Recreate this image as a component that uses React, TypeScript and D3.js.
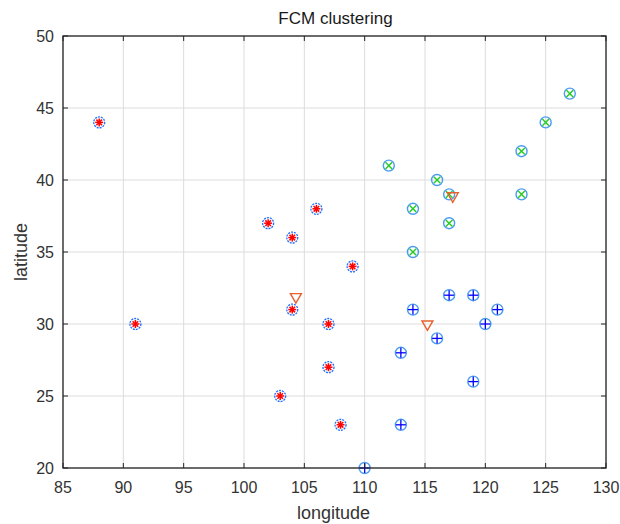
import React from "react";
import * as d3 from "d3";

const cluster1Lon = [88, 91, 102, 104, 106, 109, 104, 107, 107, 103, 108];
const cluster1Lat = [44, 30, 37, 36, 38, 34, 31, 30, 27, 25, 23];
const cluster2Lon = [127, 125, 123, 123, 112, 116, 117, 114, 117, 114];
const cluster2Lat = [46, 44, 42, 39, 41, 40, 39, 38, 37, 35];
const cluster3Lon = [117, 119, 121, 114, 120, 116, 113, 119, 113, 110];
const cluster3Lat = [32, 32, 31, 31, 30, 29, 28, 26, 23, 20];
const centerLon = [104.3, 115.2, 117.3];
const centerLat = [31.8, 29.9, 38.8];
const xTicks = [85, 90, 95, 100, 105, 110, 115, 120, 125, 130];
const yTicks = [20, 25, 30, 35, 40, 45, 50];

export default function App() {
  const W = 620, H = 524;
  const left = 63, right = 606, top = 36, bottom = 468;
  const x = d3.scaleLinear().domain([85, 130]).range([left, right]);
  const y = d3.scaleLinear().domain([20, 50]).range([bottom, top]);
  const font = "'Liberation Sans', Arial, sans-serif";
  const axisColor = "#262626";
  const textColor = "#333333";
  const circ = "#1f6fff";
  const r = 5.5;
  const s = 4;

  const pts = (lons: number[], lats: number[]) => lons.map((lo, i) => [x(lo), y(lats[i])]);

  return (
    <svg width={W} height={H} style={{ position: "absolute", left: 0, top: 0, background: "#fff" }}>
      <rect x={0} y={0} width={W} height={H} fill="#fff" />
      {xTicks.map((t) => (
        <line key={"gx" + t} x1={x(t)} x2={x(t)} y1={top} y2={bottom} stroke="#dcdcdc" strokeWidth={1} />
      ))}
      {yTicks.map((t) => (
        <line key={"gy" + t} x1={left} x2={right} y1={y(t)} y2={y(t)} stroke="#dcdcdc" strokeWidth={1} />
      ))}
      {/* cluster 1: red star + blue circle */}
      {pts(cluster1Lon, cluster1Lat).map(([cx, cy], i) => (
        <g key={"c1" + i}>
          <circle cx={cx} cy={cy} r={r} fill="none" stroke={circ} strokeWidth={1.3} strokeDasharray="2 1" />
          <line x1={cx - s} x2={cx + s} y1={cy} y2={cy} stroke="#ff0000" strokeWidth={1.5} />
          <line x1={cx} x2={cx} y1={cy - s} y2={cy + s} stroke="#ff0000" strokeWidth={1.5} />
          <line x1={cx - s * 0.7} x2={cx + s * 0.7} y1={cy - s * 0.7} y2={cy + s * 0.7} stroke="#ff0000" strokeWidth={1.5} />
          <line x1={cx - s * 0.7} x2={cx + s * 0.7} y1={cy + s * 0.7} y2={cy - s * 0.7} stroke="#ff0000" strokeWidth={1.5} />
        </g>
      ))}
      {/* cluster 2: green x + blue circle */}
      {pts(cluster2Lon, cluster2Lat).map(([cx, cy], i) => (
        <g key={"c2" + i}>
          <circle cx={cx} cy={cy} r={r} fill="none" stroke="#4a9cf0" strokeWidth={1.4} />
          <line x1={cx - 3.3} x2={cx + 3.3} y1={cy - 3.3} y2={cy + 3.3} stroke="#22cc22" strokeWidth={1.4} />
          <line x1={cx - 3.3} x2={cx + 3.3} y1={cy + 3.3} y2={cy - 3.3} stroke="#22cc22" strokeWidth={1.4} />
        </g>
      ))}
      {/* cluster 3: blue + with blue circle */}
      {pts(cluster3Lon, cluster3Lat).map(([cx, cy], i) => (
        <g key={"c3" + i}>
          <circle cx={cx} cy={cy} r={r} fill="none" stroke="#4a9cf0" strokeWidth={1.4} />
          <line x1={cx - s - 1} x2={cx + s + 1} y1={cy} y2={cy} stroke="#0000ff" strokeWidth={1.3} />
          <line x1={cx} x2={cx} y1={cy - s - 1} y2={cy + s + 1} stroke="#0000ff" strokeWidth={1.3} />
        </g>
      ))}
      {/* centers: downward triangles */}
      {pts(centerLon, centerLat).map(([cx, cy], i) => (
        <path
          key={"ct" + i}
          d={`M${cx - 5.5},${cy - 4.5} L${cx + 5.5},${cy - 4.5} L${cx},${cy + 5} Z`}
          fill="none"
          stroke="#e8602c"
          strokeWidth={1.4}
        />
      ))}
      {/* box */}
      <rect x={left} y={top} width={right - left} height={bottom - top} fill="none" stroke={axisColor} strokeWidth={1.3} />
      {xTicks.map((t) => (
        <g key={"tx" + t}>
          <line x1={x(t)} x2={x(t)} y1={bottom} y2={bottom - 5} stroke={axisColor} strokeWidth={1} />
          <line x1={x(t)} x2={x(t)} y1={top} y2={top + 5} stroke={axisColor} strokeWidth={1} />
          <text x={x(t)} y={bottom + 25} textAnchor="middle" fontFamily={font} fontSize={16} fill={textColor}>
            {t}
          </text>
        </g>
      ))}
      {yTicks.map((t) => (
        <g key={"ty" + t}>
          <line x1={left} x2={left + 5} y1={y(t)} y2={y(t)} stroke={axisColor} strokeWidth={1} />
          <line x1={right} x2={right - 5} y1={y(t)} y2={y(t)} stroke={axisColor} strokeWidth={1} />
          <text x={left - 9} y={y(t) + 6} textAnchor="end" fontFamily={font} fontSize={16} fill={textColor}>
            {t}
          </text>
        </g>
      ))}
      <text x={(left + right) / 2 + 1} y={24} textAnchor="middle" fontFamily={font} fontSize={17} fill="#1a1a1a">
        FCM clustering
      </text>
      <text x={(left + right) / 2 - 1} y={519} textAnchor="middle" fontFamily={font} fontSize={18} fill={textColor}>
        longitude
      </text>
      <text
        transform={`translate(27,${(top + bottom) / 2}) rotate(-90)`}
        textAnchor="middle"
        fontFamily={font}
        fontSize={18}
        fill={textColor}
      >
        latitude
      </text>
    </svg>
  );
}
